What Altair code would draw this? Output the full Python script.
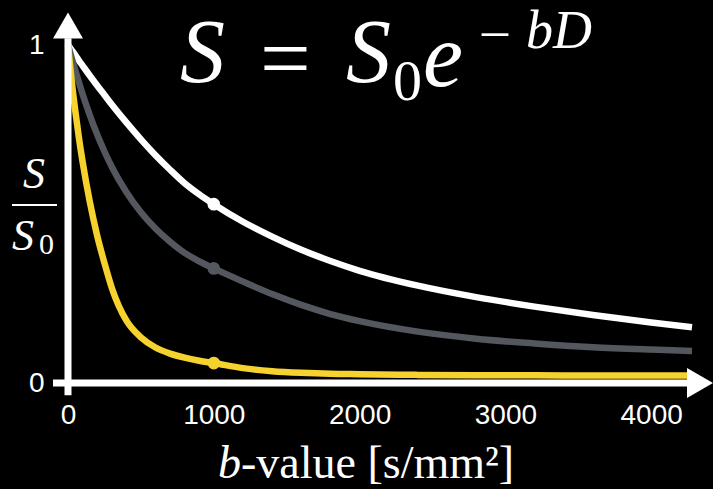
import altair as alt
import pandas as pd

# b-values (s/mm^2) and normalised signal S/S0 for three tissues
b_grid = [0, 25, 50, 75, 100, 150, 200, 250, 300, 400, 500, 600, 700, 800, 900,
          1000, 1200, 1400, 1600, 1800, 2000, 2400, 2800, 3200, 3600, 4000, 4280]
white_signal = [1.000, 0.985, 0.970, 0.954, 0.939, 0.909, 0.880, 0.852, 0.824, 0.771,
                0.721, 0.674, 0.631, 0.591, 0.558, 0.529, 0.477, 0.433, 0.394, 0.361,
                0.332, 0.288, 0.254, 0.226, 0.201, 0.179, 0.165]
gray_signal = [1.000, 0.962, 0.925, 0.890, 0.855, 0.792, 0.735, 0.685, 0.640, 0.565,
               0.505, 0.457, 0.418, 0.385, 0.360, 0.339, 0.300, 0.263, 0.231, 0.204,
               0.183, 0.152, 0.131, 0.117, 0.106, 0.099, 0.095]
yellow_signal = [1.000, 0.895, 0.805, 0.725, 0.655, 0.535, 0.436, 0.355, 0.282, 0.185,
                 0.135, 0.105, 0.087, 0.075, 0.066, 0.059, 0.044, 0.035, 0.030, 0.027,
                 0.026, 0.024, 0.023, 0.023, 0.022, 0.022, 0.022]
marker_b = 1000
x_ticks = [0, 1000, 2000, 3000, 4000]
y_ticks = [0, 1]

series = [
    ("white", white_signal, "#ffffff"),
    ("gray", gray_signal, "#54575e"),
    ("yellow", yellow_signal, "#f6d22e"),
]

W, H = 624, 338          # plot area
PAD_L, PAD_T = 68, 45    # plot origin inside the 713x489 canvas
SERIF = "Liberation Serif"
SANS = "Liberation Sans"

x_scale = alt.Scale(domain=[0, 4280], nice=False, zero=False)
y_scale = alt.Scale(domain=[0, 1], nice=False, zero=False)

x_axis = alt.Axis(values=x_ticks, format="d", title=None, domain=False, ticks=False,
                  tickSize=0, grid=False, labelColor="white", labelFont=SANS,
                  labelFontSize=28, labelPadding=18, labelFlush=False)
y_axis = alt.Axis(values=y_ticks, format="d", title=None, domain=False, ticks=False,
                  tickSize=0, grid=False, labelColor="white", labelFont=SANS,
                  labelFontSize=28, labelPadding=24, labelFlush=False)

one_row = pd.DataFrame({"k": [0]})

# axes with tick labels only; the arrows are drawn as marks below
axes = alt.Chart(pd.DataFrame({"b": [0], "s": [0]})).mark_point(opacity=0).encode(
    x=alt.X("b:Q", scale=x_scale, axis=x_axis),
    y=alt.Y("s:Q", scale=y_scale, axis=y_axis),
)

# axis lines
h_axis = alt.Chart(pd.DataFrame({"b0": [-103], "b1": [4290], "s": [0]})).mark_rule(
    color="white", strokeWidth=7, strokeCap="butt"
).encode(x=alt.X("b0:Q", scale=x_scale), x2="b1:Q", y=alt.Y("s:Q", scale=y_scale))
v_axis = alt.Chart(pd.DataFrame({"b": [0], "s0": [-0.036], "s1": [1.02]})).mark_rule(
    color="white", strokeWidth=7, strokeCap="butt"
).encode(x=alt.X("b:Q", scale=x_scale), y=alt.Y("s0:Q", scale=y_scale), y2="s1:Q")

# arrow heads
up_head = alt.Chart(pd.DataFrame({"b": [0], "s": [1.058]})).mark_point(
    shape="triangle-up", size=900, filled=True, opacity=1, color="white"
).encode(x=alt.X("b:Q", scale=x_scale), y=alt.Y("s:Q", scale=y_scale))
right_head = alt.Chart(pd.DataFrame({"b": [4335], "s": [0]})).mark_point(
    shape="triangle-right", size=900, filled=True, opacity=1, color="white"
).encode(x=alt.X("b:Q", scale=x_scale), y=alt.Y("s:Q", scale=y_scale))

# decay curves and the markers at b = 1000
curves = []
dots = []
idx = b_grid.index(marker_b)
for name, values, colour in series:
    df = pd.DataFrame({"b": b_grid, "s": values})
    curves.append(
        alt.Chart(df).mark_line(color=colour, strokeWidth=6.5, interpolate="monotone",
                                strokeCap="butt").encode(
            x=alt.X("b:Q", scale=x_scale), y=alt.Y("s:Q", scale=y_scale))
    )
    dots.append(
        alt.Chart(pd.DataFrame({"b": [marker_b], "s": [values[idx]]})).mark_point(
            shape="circle", size=160, filled=True, opacity=1, color=colour
        ).encode(x=alt.X("b:Q", scale=x_scale), y=alt.Y("s:Q", scale=y_scale))
    )


def text(content, x, y, size, style="normal", align="left", font=SERIF):
    """Place a piece of text at canvas pixel (x, y), y being the baseline."""
    return alt.Chart(one_row).mark_text(
        text=content, font=font, fontSize=size, fontStyle=style, align=align,
        baseline="alphabetic", color="white"
    ).encode(x=alt.value(x - PAD_L), y=alt.value(y - PAD_T))


# formula S = S0 e^(-bD)
formula = [
    text("S", 180, 82, 90, "italic"),
    text("=", 260, 89, 90),
    text("S", 346, 82, 90, "italic"),
    text("0", 393, 100, 58),
    text("e", 423, 86, 90, "italic"),
    text("\u2013", 482, 47, 52),
    text("bD", 526, 48, 54, "italic"),
]

# y title as a fraction S / S0
frac_bar = alt.Chart(one_row).mark_rule(color="white", strokeWidth=2).encode(
    x=alt.value(12 - PAD_L), x2=alt.value(57 - PAD_L), y=alt.value(205 - PAD_T)
)
y_title = [
    text("S", 34, 188, 44, "italic", align="center"),
    frac_bar,
    text("S", 12, 250, 44, "italic"),
    text("0", 39, 254, 30),
]

# x title
x_title = [
    text("b", 241, 478, 46, "italic", align="right"),
    text("-value [s/mm\u00b2]", 241, 478, 46),
]

chart = alt.layer(
    axes, *curves, *dots, h_axis, v_axis, up_head, right_head,
    *formula, *y_title, *x_title
).properties(
    width=W, height=H, background="black",
    padding={"left": PAD_L, "top": PAD_T, "right": 713 - PAD_L - W, "bottom": 489 - PAD_T - H},
    autosize=alt.AutoSizeParams(type="none"),
).configure_view(stroke=None)

chart.save("out.html", embed_options={"renderer": "svg", "actions": False})
